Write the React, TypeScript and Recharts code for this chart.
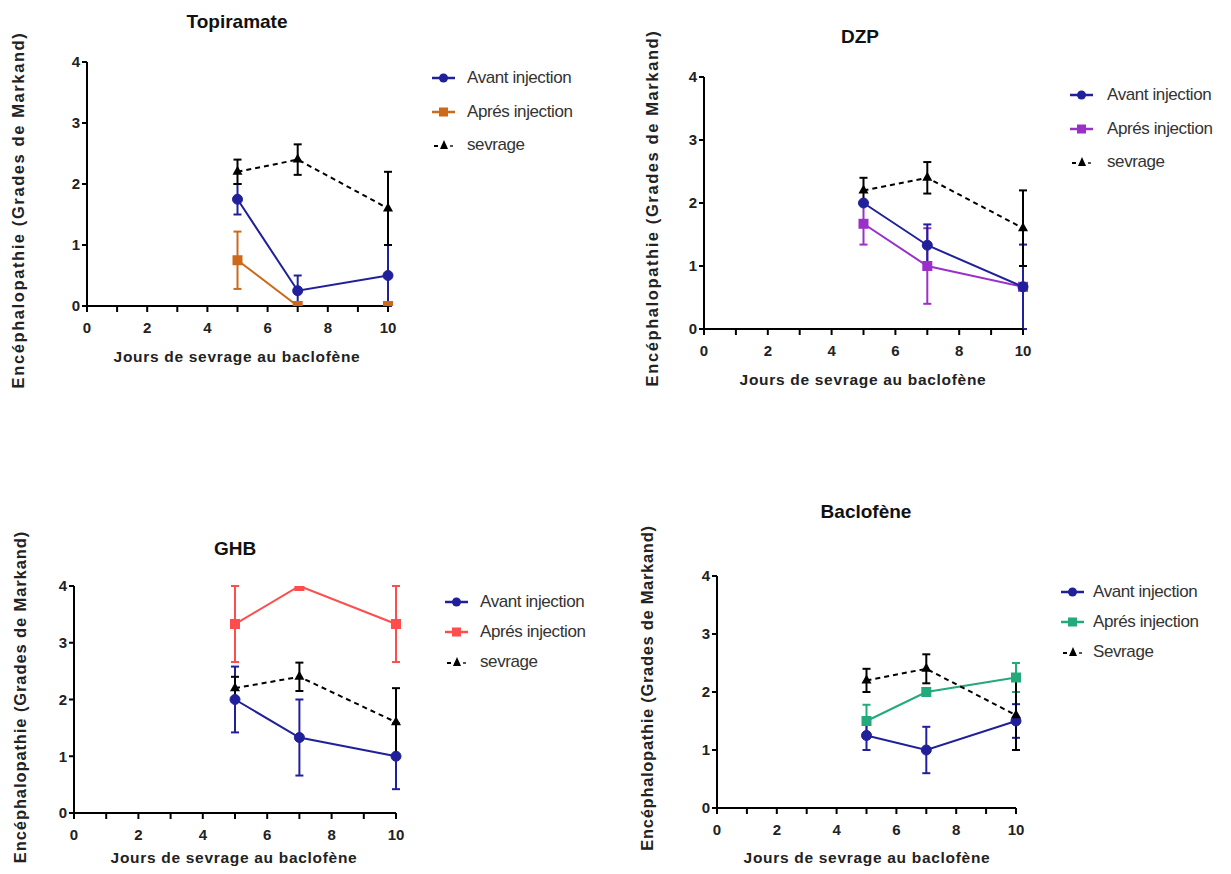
import React from "react"
import { LineChart, Line, XAxis, YAxis, ErrorBar } from "recharts"

// jours de sevrage (axe X)
const days = [5, 7, 10]
const xTicks = [0, 1, 2, 3, 4, 5, 6, 7, 8, 9, 10]
const yTicks = [0, 1, 2, 3, 4]

// courbe de sevrage (identique sur les 4 graphes)
const sevrage = [2.2, 2.4, 1.6]
const sevrageErr = [0.2, 0.25, 0.6]

// Topiramate
const topiAvant = [1.75, 0.25, 0.5]
const topiAvantErr = [0.25, 0.25, 0.5]
const topiApres = [0.75, 0, 0]
const topiApresErr = [0.47, 0, 0]

// DZP
const dzpAvant = [2.0, 1.33, 0.67]
const dzpAvantErr = [0, 0.33, 0.67]
const dzpApres = [1.67, 1.0, 0.67]
const dzpApresErr = [0.33, 0.6, 0]

// GHB
const ghbAvant = [2.0, 1.33, 1.0]
const ghbAvantErr = [0.58, 0.67, 0.58]
const ghbApres = [3.33, 4.0, 3.33]
const ghbApresErr = [0.67, 0, 0.67]

// Baclofène
const baclAvant = [1.25, 1.0, 1.5]
const baclAvantErr = [0.25, 0.4, 0.29]
const baclApres = [1.5, 2.0, 2.25]
const baclApresErr = [0.28, 0, 0.25]

const NAVY = "#20209a"
const FONT = "'Liberation Sans', Arial, sans-serif"

type Pt = [number, number]

type PanelProps = {
  title: string
  avant: number[]
  avantErr: number[]
  apres: number[]
  apresErr: number[]
  apresColor: string
  sevrageLabel: string
  plot: { x: number; y: number; w: number; h: number }
  titlePos: Pt
  xLabelPos: Pt
  yLabelPos: Pt
  yLabelSpacing: number
  legend: { x: number; textX: number; rows: number[] }
}

const circleDot = (color: string) => (p: any) => (
  <circle key={`c${p.index}`} cx={p.cx} cy={p.cy} r={5} fill={color} stroke={color} />
)
const squareDot = (color: string) => (p: any) => (
  <rect key={`s${p.index}`} x={p.cx - 5} y={p.cy - 5} width={10} height={10} fill={color} />
)
const triDot = (p: any) => (
  <path key={`t${p.index}`} d={`M${p.cx},${p.cy - 6} L${p.cx + 5},${p.cy + 3} L${p.cx - 5},${p.cy + 3} Z`} fill="#000" />
)

function LegendIcon({ kind, color }: { kind: string; color: string }) {
  return (
    <svg width={24} height={14} style={{ display: "block" }}>
      {kind === "tri" ? (
        <>
          <line x1={2} y1={8} x2={6} y2={8} stroke="#000" strokeWidth={2} />
          <line x1={18} y1={8} x2={21} y2={8} stroke="#555" strokeWidth={2} />
          <path d="M12,2 L16,11 L8,11 Z" fill="#000" />
        </>
      ) : (
        <>
          <line x1={0} y1={7} x2={23} y2={7} stroke={color} strokeWidth={2.5} />
          {kind === "circle" ? (
            <circle cx={11.5} cy={7} r={4.5} fill={color} />
          ) : (
            <rect x={7} y={2.5} width={9} height={9} fill={color} />
          )}
        </>
      )}
    </svg>
  )
}

function Panel(props: PanelProps) {
  const { plot } = props
  const rows = days.map((d, i) => ({
    day: d,
    avant: props.avant[i],
    avantErr: props.avantErr[i],
    apres: props.apres[i],
    apresErr: props.apresErr[i],
    sevrage: sevrage[i],
    sevrageErr: sevrageErr[i],
  }))
  const m = { top: 20, right: 20, bottom: 30, left: 40 }
  const legendItems = [
    { kind: "circle", color: NAVY, label: "Avant injection" },
    { kind: "square", color: props.apresColor, label: "Aprés injection" },
    { kind: "tri", color: "#000", label: props.sevrageLabel },
  ]
  return (
    <>
      <div style={{ position: "absolute", left: plot.x - 60, top: plot.y - 20 }}>
        <LineChart width={plot.w + 80} height={plot.h + 80} data={rows} margin={m}>
          <XAxis
            dataKey="day"
            type="number"
            domain={[0, 10]}
            ticks={xTicks}
            interval={0}
            tickFormatter={(v: number) => (v % 2 === 0 ? String(v) : "")}
            stroke="#000"
            strokeWidth={2}
            tickSize={6}
            tickMargin={10}
            height={30}
            tick={{ fill: "#222", fontSize: 15, fontWeight: 700, fontFamily: FONT }}
          />
          <YAxis
            type="number"
            domain={[0, 4]}
            allowDataOverflow
            ticks={yTicks}
            interval={0}
            stroke="#000"
            strokeWidth={2}
            tickSize={5}
            tickMargin={2}
            width={20}
            tick={{ fill: "#222", fontSize: 15, fontWeight: 700, fontFamily: FONT }}
          />
          <Line
            dataKey="apres"
            stroke={props.apresColor}
            strokeWidth={2}
            dot={squareDot(props.apresColor)}
            activeDot={false}
            isAnimationActive={false}
          >
            <ErrorBar dataKey="apresErr" direction="y" width={4} stroke={props.apresColor} strokeWidth={2} />
          </Line>
          <Line
            dataKey="avant"
            stroke={NAVY}
            strokeWidth={2}
            dot={circleDot(NAVY)}
            activeDot={false}
            isAnimationActive={false}
          >
            <ErrorBar dataKey="avantErr" direction="y" width={4} stroke={NAVY} strokeWidth={2} />
          </Line>
          <Line
            dataKey="sevrage"
            stroke="#000"
            strokeWidth={2}
            strokeDasharray="5 4"
            dot={triDot}
            activeDot={false}
            isAnimationActive={false}
          >
            <ErrorBar dataKey="sevrageErr" direction="y" width={4} stroke="#000" strokeWidth={2} />
          </Line>
        </LineChart>
      </div>
      <div
        style={{
          position: "absolute",
          left: props.titlePos[0],
          top: props.titlePos[1],
          transform: "translate(-50%, -50%)",
          fontSize: 19,
          fontWeight: 700,
          color: "#111",
          whiteSpace: "nowrap",
        }}
      >
        {props.title}
      </div>
      <div
        style={{
          position: "absolute",
          left: props.xLabelPos[0],
          top: props.xLabelPos[1],
          transform: "translate(-50%, -50%)",
          fontSize: 15.5,
          fontWeight: 700,
          letterSpacing: 0.7,
          color: "#222",
          whiteSpace: "nowrap",
        }}
      >
        Jours de sevrage au baclofène
      </div>
      <div
        style={{
          position: "absolute",
          left: props.yLabelPos[0],
          top: props.yLabelPos[1],
          transform: "translate(-50%, -50%) rotate(-90deg)",
          fontSize: 16.5,
          fontWeight: 700,
          letterSpacing: props.yLabelSpacing,
          color: "#222",
          whiteSpace: "nowrap",
        }}
      >
        Encéphalopathie (Grades de Markand)
      </div>
      {legendItems.map((it, i) => (
        <React.Fragment key={it.label}>
          <div style={{ position: "absolute", left: props.legend.x, top: props.legend.rows[i] - 7 }}>
            <LegendIcon kind={it.kind} color={it.color} />
          </div>
          <div
            style={{
              position: "absolute",
              left: props.legend.textX,
              top: props.legend.rows[i],
              transform: "translateY(-50%)",
              fontSize: 17,
              color: "#333",
              letterSpacing: -0.4,
              whiteSpace: "nowrap",
            }}
          >
            {it.label}
          </div>
        </React.Fragment>
      ))}
    </>
  )
}

export default function App() {
  return (
    <div
      style={{
        position: "absolute",
        left: 0,
        top: 0,
        width: 1231,
        height: 874,
        background: "#fff",
        fontFamily: FONT,
        overflow: "hidden",
      }}
    >
      <Panel
        title="Topiramate"
        avant={topiAvant}
        avantErr={topiAvantErr}
        apres={topiApres}
        apresErr={topiApresErr}
        apresColor="#cc6a1a"
        sevrageLabel="sevrage"
        plot={{ x: 87, y: 62, w: 301, h: 244 }}
        titlePos={[237, 22]}
        xLabelPos={[237, 357]}
        yLabelPos={[18, 210]}
        yLabelSpacing={1.6}
        legend={{ x: 432, textX: 467, rows: [78, 112, 145] }}
      />
      <Panel
        title="DZP"
        avant={dzpAvant}
        avantErr={dzpAvantErr}
        apres={dzpApres}
        apresErr={dzpApresErr}
        apresColor="#9b30c8"
        sevrageLabel="sevrage"
        plot={{ x: 704, y: 77, w: 319, h: 252 }}
        titlePos={[860, 37]}
        xLabelPos={[863, 380]}
        yLabelPos={[652, 208]}
        yLabelSpacing={1.6}
        legend={{ x: 1070, textX: 1107, rows: [95, 129, 162] }}
      />
      <Panel
        title="GHB"
        avant={ghbAvant}
        avantErr={ghbAvantErr}
        apres={ghbApres}
        apresErr={ghbApresErr}
        apresColor="#ff4c4c"
        sevrageLabel="sevrage"
        plot={{ x: 74, y: 586, w: 322, h: 227 }}
        titlePos={[235, 549]}
        xLabelPos={[234, 858]}
        yLabelPos={[20, 697]}
        yLabelSpacing={0.9}
        legend={{ x: 445, textX: 480, rows: [602, 632, 662] }}
      />
      <Panel
        title="Baclofène"
        avant={baclAvant}
        avantErr={baclAvantErr}
        apres={baclApres}
        apresErr={baclApresErr}
        apresColor="#22aa7a"
        sevrageLabel="Sevrage"
        plot={{ x: 717, y: 576, w: 299, h: 232 }}
        titlePos={[866, 512]}
        xLabelPos={[867, 858]}
        yLabelPos={[647, 688]}
        yLabelSpacing={0.7}
        legend={{ x: 1061, textX: 1093, rows: [592, 622, 652] }}
      />
    </div>
  )
}
